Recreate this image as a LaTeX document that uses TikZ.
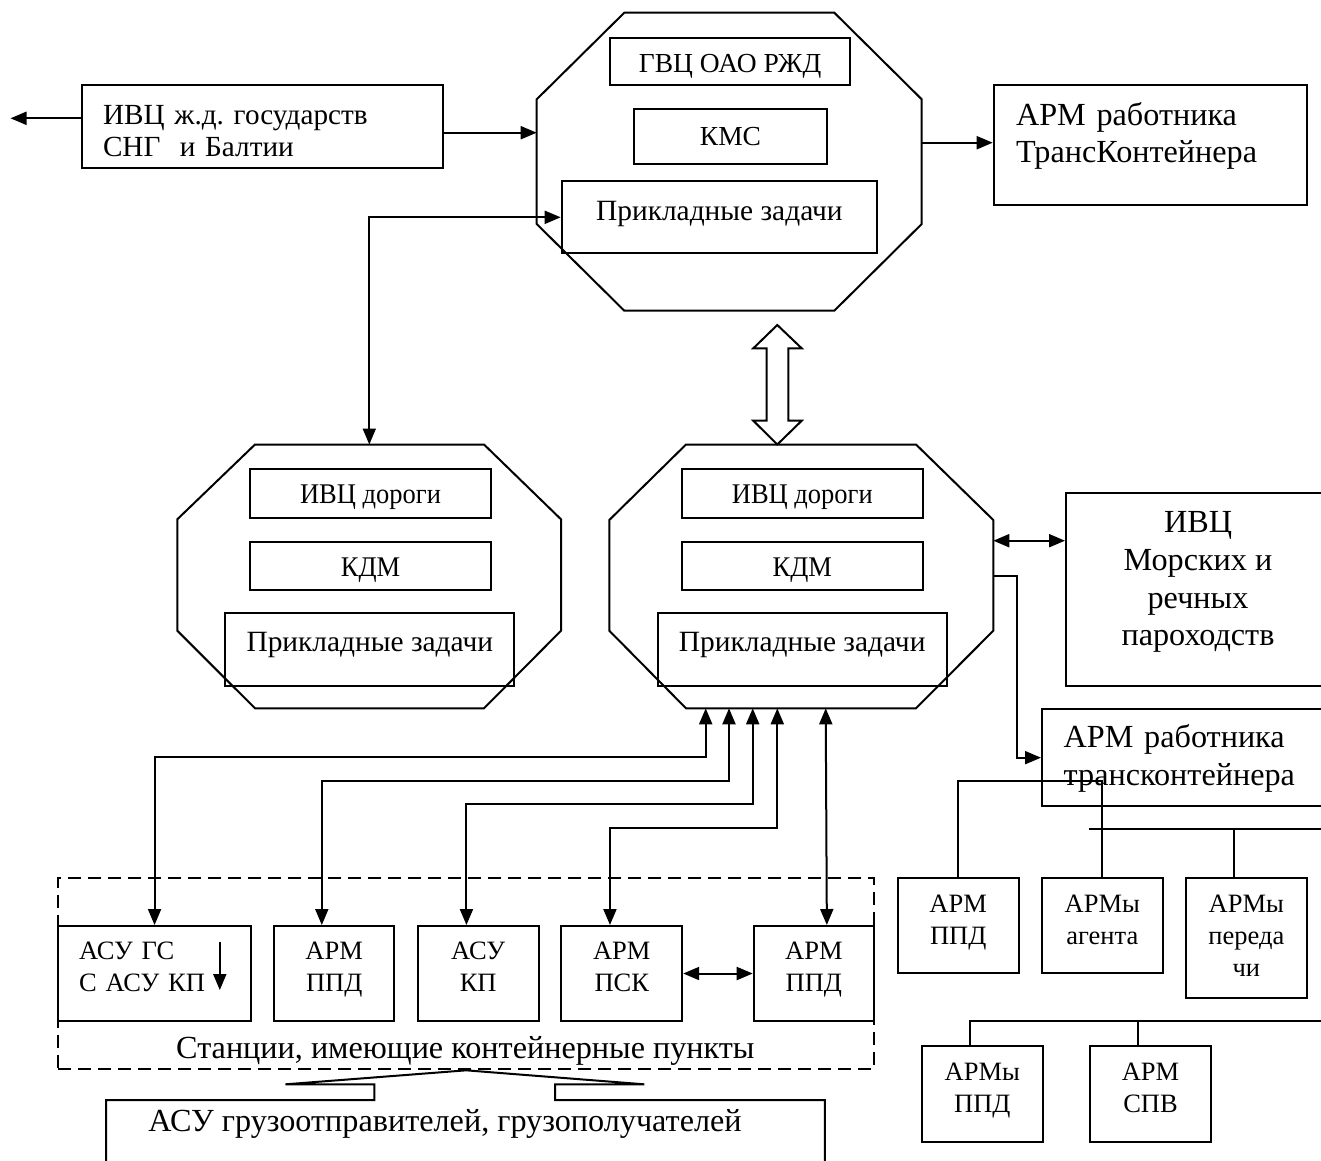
\documentclass[tikz,border=0pt]{standalone}
\usepackage{fontspec}
\setmainfont{Liberation Serif}
\newfontfamily\condserif[FakeStretch=0.93]{Liberation Serif}
\usetikzlibrary{arrows.meta, positioning, calc}

% text with fixed top and bottom padding (first line height, last line depth)
\newcommand{\boxlines}[3]{\rule{0pt}{#1}#3\rule[-#2]{0pt}{#2}}

\begin{document}
\frenchspacing
\begin{tikzpicture}[x=1pt, y=-1pt, line width=2pt, >={Triangle[length=16pt, width=13pt]},
    box/.style={draw, inner sep=0pt, anchor=north west},
    fontL/.style={font=\fontsize{32.2}{37.7}\selectfont},
    fontM/.style={font=\fontsize{29.4}{34}\selectfont},
    fontS/.style={font=\fontsize{26.5}{32}\selectfont},
    fontT/.style={font=\fontsize{27.5}{32}\selectfont},
    fontN/.style={font=\condserif\fontsize{28.5}{32}\selectfont}]

    % Page frame
    \useasboundingbox (0,0) rectangle (1321,1160);

    % Draw octagons
    \draw (624.3,12.7) -- (834.3,12.7) -- (921.7,99.3) -- (921.7,224) -- (834.3,310.7)
        -- (624.3,310.7) -- (536.7,224) -- (536.7,99.3) -- cycle;
    \draw (255,444.5) -- (484,444.5) -- (561,519.3) -- (561,630.7) -- (484,708.3)
        -- (255,708.3) -- (177.3,630.7) -- (177.3,519.3) -- cycle;
    \draw (686,444.5) -- (916,444.5) -- (993.3,520) -- (993.3,630.7) -- (916,708.3)
        -- (686,708.3) -- (609.3,630.7) -- (609.3,520) -- cycle;

    % Points on the octagon sides
    \coordinate (toct-w) at (536.7,132.7);
    \coordinate (toct-e) at (921.7,142.7);
    \coordinate (loct-n) at (369.3,444.5);
    \coordinate (moct-e) at (993.3,540.7);
    \coordinate (moct-e2) at (993.3,576);
    \coordinate (moct-s1) at (705.7,708.3);
    \coordinate (moct-s2) at (729,708.3);
    \coordinate (moct-s3) at (752.7,708.3);
    \coordinate (moct-s4) at (777.3,708.3);
    \coordinate (moct-s5) at (825.7,708.3);
    \coordinate (cis-out) at (10.5,118.3);

    % Top octagon contents
    \node[box, fontT, minimum width=240.3pt, minimum height=47.6pt, text height=24pt, text depth=3pt]
        (gvc) at (609,36.7) {ГВЦ ОАО РЖД\hspace{18pt}};
    \node[box, fontT, minimum width=192.4pt, minimum height=54.4pt, text height=22pt, text depth=5pt]
        (kms) at (633.3,108.3) {КМС};
    \node[box, fontM, minimum width=315.3pt, minimum height=72pt, text height=22pt, text depth=16pt]
        (pz1) at (560.7,180.3) {Прикладные задачи};

    % Left octagon contents
    \node[box, fontN, minimum width=241pt, minimum height=48.4pt, text height=24pt, text depth=3.6pt]
        (ivc1) at (249,468.3) {ИВЦ дороги};
    \node[box, fontN, minimum width=241pt, minimum height=48.3pt, text height=24pt, text depth=3.7pt]
        (kdm1) at (249,540.7) {КДМ};
    \node[box, fontM, minimum width=289pt, minimum height=72.7pt, text height=22pt, text depth=17.9pt]
        (pz2) at (224.3,612.3) {Прикладные задачи};

    % Middle octagon contents
    \node[box, fontN, minimum width=240.7pt, minimum height=48.4pt, text height=24pt, text depth=3.6pt]
        (ivc2) at (681,468.3) {ИВЦ дороги};
    \node[box, fontN, minimum width=240.7pt, minimum height=48.3pt, text height=24pt, text depth=3.7pt]
        (kdm2) at (681,540.7) {КДМ};
    \node[box, fontM, minimum width=289pt, minimum height=72.7pt, text height=22pt, text depth=17.9pt]
        (pz3) at (656.7,612.3) {Прикладные задачи};

    % Outer boxes, top level
    \node[box, font=\fontsize{29.2}{31.7}\selectfont, text width=319pt, inner xsep=21pt, minimum height=82.4pt, align=left]
        (cis) at (81,84.3) {\boxlines{34pt}{6.7pt}{ИВЦ ж.д. государств\\СНГ\ \ и Балтии}};
    \node[box, fontL, text width=268.4pt, inner xsep=22.3pt, minimum height=119.7pt, align=left]
        (tk) at (992.7,84.3) {\boxlines{25pt}{27.6pt}{АРМ работника\\ТрансКонтейнера}};

    % Right side boxes
    \node[box, fontL, minimum width=264pt, minimum height=192.7pt, align=center]
        (mor) at (1065,492.3) {\boxlines{25pt}{25.8pt}{ИВЦ\\Морских и\\речных\\пароходств}};
    \node[box, fontL, text width=245.6pt, inner xsep=21.7pt, minimum height=96.7pt, align=left]
        (atk) at (1041,708.3) {\boxlines{26pt}{8.2pt}{АРМ работника\\трансконтейнера}};

    % Workstations of the transcontainer operator
    \node[box, fontS, minimum width=121pt, minimum height=95.6pt, align=center]
        (ppd3) at (896.7,876.7) {\boxlines{22pt}{15.6pt}{АРМ\\ППД}};
    \node[box, fontS, minimum width=120.7pt, minimum height=95.6pt, align=center]
        (agt) at (1041,876.7) {\boxlines{22pt}{15.6pt}{АРМы\\агента}};
    \node[box, fontS, minimum width=120.7pt, minimum height=120pt, align=center]
        (per) at (1185,876.7) {\boxlines{22pt}{8pt}{АРМы\\переда\\чи}};
    \node[box, fontS, minimum width=120.7pt, minimum height=96pt, align=center]
        (ppd4) at (921,1045) {\boxlines{22pt}{18pt}{АРМы\\ППД}};
    \node[box, fontS, minimum width=121pt, minimum height=96pt, align=center]
        (spv) at (1089,1045) {\boxlines{22pt}{18pt}{АРМ\\СПВ}};

    % Stations with container points
    \node[box, dash pattern=on 13pt off 7pt, minimum width=815.7pt, minimum height=191.6pt]
        (stgroup) at (57.3,876.7) {};
    \node[box, fontS, text width=151.1pt, inner xsep=20.7pt, minimum height=95pt, align=left]
        (asugs) at (57.3,925) {\boxlines{22pt}{19pt}{АСУ ГС\\С АСУ КП}};
    \node[box, fontS, minimum width=120.4pt, minimum height=95pt, align=center]
        (ppd1) at (273,925) {\boxlines{22pt}{19pt}{АРМ\\ППД}};
    \node[box, fontS, minimum width=120.9pt, minimum height=95pt, align=center]
        (asukp) at (416.7,925) {\boxlines{22pt}{19pt}{АСУ\\КП}};
    \node[box, fontS, minimum width=120.9pt, minimum height=95pt, align=center]
        (psk) at (560.3,925) {\boxlines{22pt}{19pt}{АРМ\\ПСК}};
    \node[box, fontS, minimum width=120.3pt, minimum height=95pt, align=center]
        (ppd2) at (752.7,925) {\boxlines{22pt}{19pt}{АРМ\\ППД}};
    \node[fontL, anchor=base, inner sep=0pt] (stlbl) at (465.4,1058.3)
        {Станции, имеющие контейнерные пункты};

    % Shippers' systems (box runs off the page)
    \draw (stgroup.south) -- (285.5,1084.3) -- (374.4,1084.3) -- (374.4,1100) -- (106,1100) -- (106,1200);
    \draw (stgroup.south) -- (644.3,1084.3) -- (555,1084.3) -- (555,1100) -- (824.8,1100) -- (824.8,1200);
    \node[fontL, anchor=base, inner sep=0pt] (gruz) at (445,1131.7)
        {АСУ грузоотправителей, грузополучателей};

    % Connectors, top level
    \draw[->] (cis.west |- cis-out) -- (cis-out);
    \draw[->] (toct-w -| cis.east) -- (toct-w);
    \draw[->] (toct-e) -- (toct-e -| tk.west);
    \draw[<->] (pz1.west) -| (loct-n);

    % Hollow two-way arrow between the centres
    \draw (777.3,325) -- (801.7,348.3) -- (788.3,348.3) -- (788.3,420.7) -- (801.7,420.7)
        -- (777.3,444.5) -- (753.3,420.7) -- (766.7,420.7) -- (766.7,348.3) -- (753.3,348.3) -- cycle;

    % Connectors, right side
    \draw[<->] (moct-e) -- (moct-e -| mor.west);
    \draw[->] (moct-e2) -- ++(24,0) |- (atk.west);
    \draw (ppd3.north) -- ++(0,-96) -| (agt.north);
    \draw (1089,829.3) -- (1321,829.3);
    \draw ($(per.north)+(-12.3,0)$) -- ++(0,-47.4);
    \draw ($(ppd4.north)+(-12,0)$) |- ++(352,-24);
    \draw ($(spv.north)+(-12.5,0)$) -- ++(0,-24);

    % Connectors to the stations
    \draw[<->] (moct-s1) -- ++(0,48.4) -| (asugs.north);
    \draw[<->] (moct-s2) -- ++(0,72.4) -| ($(ppd1.north)+(-12.4,0)$);
    \draw[<->] (moct-s3) -- ++(0,96) -| ($(asukp.north)+(-11.7,0)$);
    \draw[<->] (moct-s4) -- ++(0,120) -| ($(psk.north)+(-11.8,0)$);
    \draw[<->] (moct-s5) -- ($(ppd2.north)+(13,0)$);
    \draw[<->] (psk.east) -- (ppd2.west);
    \draw[->] ($(asugs.north east)+(-32,16.7)$) -- ++(0,48.3);

\end{tikzpicture}
\end{document}
